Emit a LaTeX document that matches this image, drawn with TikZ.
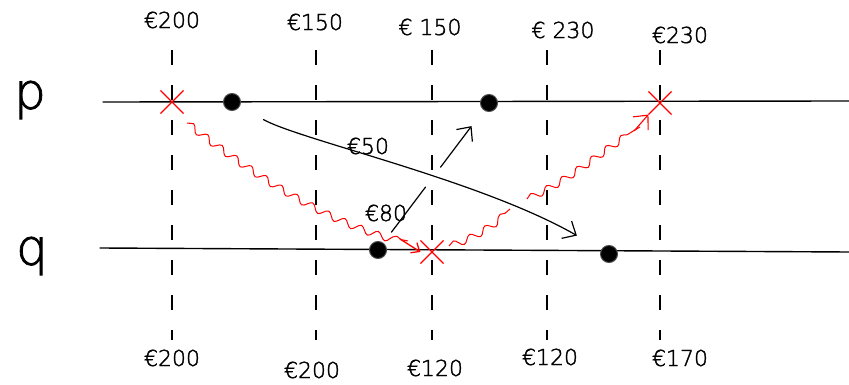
\documentclass[tikz,border=0pt]{standalone}
\usepackage{fontspec}
\setmainfont{DejaVu Sans ExtraLight}[BoldFont=DejaVu Sans ExtraLight, BoldFeatures={FakeBold=1.6}]
\usetikzlibrary{arrows.meta,decorations.pathmorphing,shapes.misc}
\begin{document}
\begin{tikzpicture}[x=1pt,y=-1pt,
  axis/.style={line width=1.4pt, line cap=round},
  guide/.style={line width=1.1pt, dash pattern=on 15pt off 20pt},
  price/.style={font=\fontsize{22}{24}\selectfont\bfseries, inner sep=0pt},
  letter/.style={font=\fontsize{50}{54}\selectfont\bfseries, inner sep=0pt},
  dotmark/.style={circle, fill=black, draw=black!70, line width=1pt, minimum size=17pt, inner sep=0pt},
  cross/.style={cross out, draw=red, line width=1.1pt, minimum size=22pt, inner sep=0pt},
  barb/.style={-{Straight Barb[length=11pt,width=20pt,line width=1.2pt]}},
  flow/.style={line width=1.2pt, line cap=round},
  wave/.style={red, line width=1pt, decorate, decoration={snake, amplitude=3.5pt, segment length=18pt, post length=4pt}},
  wavelong/.style={red, line width=1pt, decorate, decoration={snake, amplitude=3.5pt, segment length=18pt, post length=8pt}},
]
\useasboundingbox (0,0) rectangle (849,385);

% row letters
\node[letter] (lp) at (30,100) {p};
\node[letter] (lq) at (32,256) {q};

% price axis lines
\coordinate (ps) at (103,102); \coordinate (pe) at (849,101);
\coordinate (qs) at (100,248); \coordinate (qe) at (849,252);
\draw[axis] (ps) -- (pe);
\draw[axis] (qs) -- (qe);

% vertical dashed guides
\foreach \i/\x in {1/172,2/316,3/432,4/547,5/660}{
  \coordinate (gt\i) at (\x,50);
  \coordinate (gb\i) at (\x,340);
  \draw[guide] (gt\i) -- (gb\i);
}

% top prices
\node[price] (t1) at (172,20) {€200};
\node[price] (t2) at (315,22) {€150};
\node[price] (t3) at (430,27) {€ 150};
\node[price] (t4) at (563,30) {€ 230};
\node[price] (t5) at (680,35) {€230};

% bottom prices
\node[price] (b1) at (172,358) {€200};
\node[price] (b2) at (312,370) {€200};
\node[price] (b3) at (435,368) {€120};
\node[price] (b4) at (550,357) {€120};
\node[price] (b5) at (680,358) {€170};

% dots and crosses
\node[dotmark] (p1) at (232,102) {};
\node[dotmark] (p2) at (489,103) {};
\node[dotmark] (q1) at (378,250) {};
\node[dotmark] (q2) at (609,254) {};
\node[cross] (xp1) at (172,102) {};
\node[cross] (xp2) at (660,103) {};
\node[cross] (xq) at (432,252) {};

% black curve p1 -> q2 (EUR 50)
\draw[flow, barb, shorten <=27pt, shorten >=28pt] (p1) .. controls (300,140) and (480,180) .. (q2);
\node[price] (l50) at (368,146) {€50};

% black broken arrow q1 -> p2 (EUR 80)
\path (q1) -- (p2) coordinate[pos=0.08] (a1) coordinate[pos=0.42] (a2)
                   coordinate[pos=0.57] (a3) coordinate[pos=0.88] (a4);
\draw[flow] (a1) -- (a2);
\draw[flow, barb] (a3) -- (a4);
\node[price] (l80) at (386,213) {€80};

% red wavy: xp1 -> xq
\coordinate (s1) at (187,123);
\coordinate (s2) at (408,241);
\draw[wave] (s1) .. controls (262,182) and (340,228) .. (s2);
\coordinate (rh1) at (400,239);
\draw[red, line width=1.3pt, -{Straight Barb[length=7pt,width=12pt,line width=1.3pt]}] (rh1) -- (xq.west);

% red wavy: xq -> xp2 (broken)
\coordinate (r1) at (449,246);
\coordinate (r2) at (510,209);
\coordinate (r3) at (527,199);
\coordinate (r4) at (640,127);
\draw[wave] (r1) .. controls (475,238) and (495,222) .. (r2);
\draw[wavelong] (r3) .. controls (570,180) and (600,150) .. (r4);
\coordinate (r5) at (634,131);
\draw[red, line width=1.1pt, -{Straight Barb[length=11pt,width=20pt,line width=1.1pt]}] (r5) -- (xp2.south west);
\end{tikzpicture}
\end{document}
